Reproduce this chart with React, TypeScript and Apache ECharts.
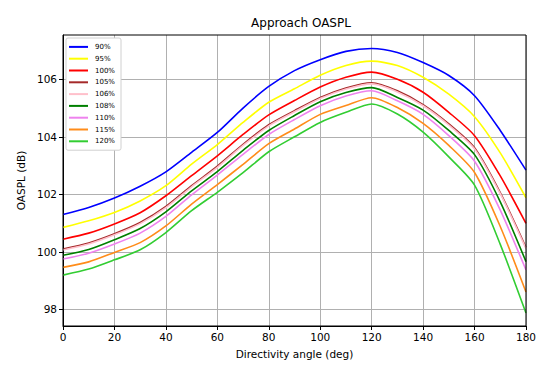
import React, { useEffect, useRef } from "react";
import * as echarts from "echarts";

const angles = [0, 10, 20, 30, 40, 50, 60, 70, 80, 90, 100, 110, 120, 130, 140, 150, 160, 170, 180];
const seriesNames = ["90%", "95%", "100%", "105%", "106%", "108%", "110%", "115%", "120%"];
const seriesColors = ["#0000ff", "#ffff00", "#ff0000", "#a52a2a", "#ffc0cb", "#008000", "#ee82ee", "#ff8c1a", "#32cd32"];

const s90 = [101.3, 101.54, 101.87, 102.28, 102.78, 103.46, 104.15, 105.0, 105.75, 106.3, 106.68, 106.97, 107.07, 106.93, 106.58, 106.13, 105.43, 104.22, 102.84];
const s95 = [100.85, 101.08, 101.37, 101.77, 102.3, 103.05, 103.73, 104.5, 105.2, 105.67, 106.14, 106.48, 106.63, 106.48, 106.07, 105.48, 104.7, 103.44, 101.88];
const s100 = [100.44, 100.65, 100.97, 101.36, 101.95, 102.65, 103.34, 104.08, 104.76, 105.26, 105.73, 106.07, 106.25, 106.0, 105.55, 104.85, 104.04, 102.64, 100.99];
const s105 = [100.1, 100.31, 100.63, 101.02, 101.58, 102.3, 102.98, 103.74, 104.42, 104.91, 105.37, 105.7, 105.88, 105.6, 105.12, 104.45, 103.62, 102.06, 100.15];
const s106 = [100.06, 100.27, 100.59, 100.98, 101.54, 102.26, 102.94, 103.7, 104.38, 104.87, 105.33, 105.66, 105.84, 105.56, 105.08, 104.41, 103.58, 102.02, 100.11];
const s108 = [99.88, 100.08, 100.42, 100.81, 101.39, 102.12, 102.79, 103.53, 104.22, 104.74, 105.22, 105.54, 105.71, 105.37, 104.93, 104.22, 103.38, 101.74, 99.66];
const s110 = [99.75, 99.95, 100.27, 100.65, 101.23, 101.98, 102.67, 103.39, 104.08, 104.6, 105.08, 105.42, 105.6, 105.25, 104.78, 104.04, 103.15, 101.45, 99.37];
const s115 = [99.46, 99.65, 99.98, 100.32, 100.9, 101.66, 102.34, 103.04, 103.76, 104.27, 104.78, 105.09, 105.36, 105.02, 104.47, 103.7, 102.76, 100.88, 98.6];
const s120 = [99.19, 99.4, 99.72, 100.07, 100.67, 101.43, 102.07, 102.75, 103.48, 104.0, 104.5, 104.85, 105.14, 104.79, 104.16, 103.3, 102.32, 100.26, 97.87];

const allSeries = [s90, s95, s100, s105, s106, s108, s110, s115, s120];
const yTicks = [98, 100, 102, 104, 106];

export default function App() {
  const ref = useRef<HTMLDivElement>(null);
  useEffect(() => {
    document.body.style.margin = "0";
    const chart = echarts.init(ref.current!, null, { renderer: "svg" });
    const font = "DejaVu Sans";
    chart.setOption({
      animation: false,
      backgroundColor: "#fff",
      title: {
        text: "Approach OASPL",
        left: "center",
        top: 12,
        left: 296,
        textAlign: "center",
        textStyle: { fontFamily: font, fontSize: 12, fontWeight: "normal", color: "#000" },
      },
      legend: {
        orient: "vertical",
        left: 66,
        top: 38,
        padding: [3, 6, 3, 3],
        itemGap: 0,
        itemWidth: 19,
        itemHeight: 2,
        icon: "rect",
        backgroundColor: "#fff",
        borderColor: "#d0d0d0",
        borderWidth: 1,
        borderRadius: 2,
        textStyle: { fontFamily: font, fontSize: 7, color: "#000", lineHeight: 11.8, padding: [0, 0, 0, 2] },
        data: seriesNames,
      },
      grid: {
        left: 63,
        right: 9,
        top: 35,
        bottom: 41,
        show: true,
        borderColor: "#000",
        borderWidth: 1,
        backgroundColor: "transparent",
        z: 10,
      },
      xAxis: {
        type: "value",
        min: 0,
        max: 180,
        interval: 20,
        name: "Directivity angle (deg)",
        nameLocation: "middle",
        nameGap: 22,
        nameTextStyle: { fontFamily: font, fontSize: 10.5, color: "#000" },
        axisLine: { show: true, lineStyle: { color: "#000", width: 1 } },
        axisTick: { show: true, length: 4, lineStyle: { color: "#000" } },
        axisLabel: { fontFamily: font, fontSize: 10.5, color: "#000", margin: 5 },
        splitLine: { show: true, lineStyle: { color: "#b0b0b0", width: 1 } },
      },
      yAxis: {
        type: "value",
        min: 97.42,
        max: 107.54,
        name: "OASPL (dB)",
        nameLocation: "middle",
        nameGap: 36,
        nameTextStyle: { fontFamily: font, fontSize: 10.5, color: "#000" },
        axisLine: { show: true, lineStyle: { color: "#000", width: 1 } },
        axisTick: { show: true, length: 4, lineStyle: { color: "#000" }, customValues: yTicks },
        axisLabel: { fontFamily: font, fontSize: 10.5, color: "#000", margin: 6, customValues: yTicks },
        splitLine: { show: true, lineStyle: { color: "#b0b0b0", width: 1 } },
      },
      series: seriesNames.map((name, i) => ({
        name,
        type: "line",
        data: angles.map((a, j) => [a, allSeries[i][j]]),
        smooth: 0.25,
        symbol: "none",
        lineStyle: { color: seriesColors[i], width: 1.6 },
        itemStyle: { color: seriesColors[i] },
      })),
    });
    return () => chart.dispose();
  }, []);
  return <div ref={ref} style={{ width: 539, height: 367 }} />;
}
